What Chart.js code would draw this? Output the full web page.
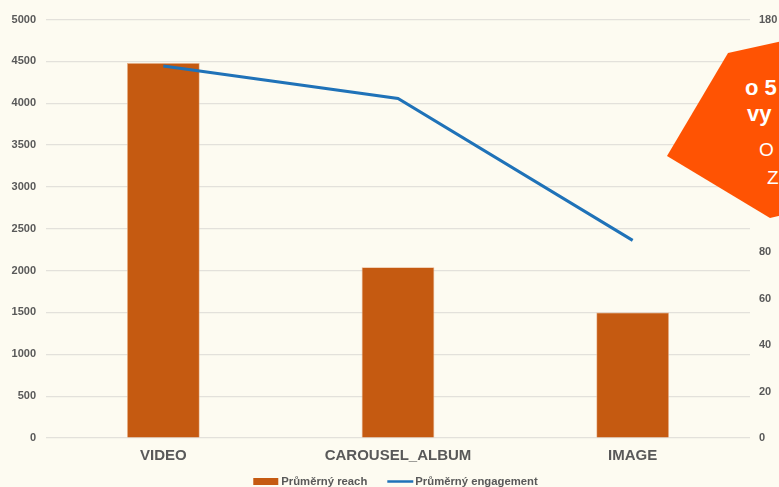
<!DOCTYPE html>
<html>
<head>
<meta charset="utf-8">
<script src="https://cdn.jsdelivr.net/npm/chart.js@4"></script>
<style>
  html, body { margin: 0; padding: 0; background: #fdfbf1; overflow: hidden; }
  #wrap { position: relative; width: 779px; height: 487px; overflow: hidden; }
  #badge {
    position: absolute; left: 667px; top: 38px; width: 120px; height: 182px;
    background: #ff5303;
    clip-path: polygon(61px 15px, 120px 2px, 120px 176px, 103px 180px, 0px 118px);
    color: #fff; font-family: "Liberation Sans", Arial, sans-serif; overflow: hidden;
  }
  #badge div { position: absolute; white-space: nowrap; }
</style>
</head>
<body>
<div id="wrap">
  <canvas id="chart" width="779" height="487"></canvas>
  <div id="badge">
    <div style="top:37px;left:78px;font-size:22px;font-weight:bold;">o 5</div>
    <div style="top:63px;left:80px;font-size:22px;font-weight:bold;">vy</div>
    <div style="top:101px;left:92px;font-size:19px;">O</div>
    <div style="top:129px;left:100px;font-size:19px;">Z</div>
  </div>
</div>
<script>
// data
const categories = ["VIDEO", "CAROUSEL_ALBUM", "IMAGE"];
const avgReach = [4480, 2040, 1500];
const avgEngagement = [160, 146, 85];
const reachTicks = [0, 5000, 500];
const engagementTicks = [0, 180, 20];

const grey = "#595959";
const fontFam = "'Liberation Sans', Arial, sans-serif";

// legend drawn by hand so the spacing matches the office-style legend
const bottomLegend = {
    id: "bottomLegend",
    afterDraw(chart) {
        const c = chart.ctx;
        const ds = chart.data.datasets;
        const bar = ds[1], line = ds[0];
        c.save();
        c.font = "bold 11.3px " + fontFam;
        c.textBaseline = "middle";
        const w1 = c.measureText(bar.label).width;
        const w2 = c.measureText(line.label).width;
        const total = 25 + 3 + w1 + 20 + 26 + 2 + w2;
        let x = 395.5 - total / 2;
        const y = 481.5;
        c.fillStyle = bar.backgroundColor;
        c.fillRect(x, y - 3.5, 25, 7);
        x += 28;
        c.fillStyle = grey;
        c.fillText(bar.label, x, y);
        x += w1 + 20;
        c.strokeStyle = line.borderColor;
        c.lineWidth = 2.5;
        c.beginPath();
        c.moveTo(x, y);
        c.lineTo(x + 26, y);
        c.stroke();
        x += 28;
        c.fillText(line.label, x, y);
        c.restore();
    }
};

const ctx = document.getElementById("chart").getContext("2d");

new Chart(ctx, {
    data: {
        labels: categories,
        datasets: [
            {
                type: "line",
                label: "Průměrný engagement",
                data: avgEngagement,
                yAxisID: "y1",
                borderColor: "#1f72b8",
                backgroundColor: "#1f72b8",
                borderWidth: 3,
                pointRadius: 0,
                tension: 0,
                order: 0
            },
            {
                type: "bar",
                label: "Průměrný reach",
                data: avgReach,
                yAxisID: "y",
                backgroundColor: "#c55a11",
                borderColor: "#e8b48f",
                borderWidth: 0.8,
                categoryPercentage: 1,
                barPercentage: 0.31,
                order: 1
            }
        ]
    },
    plugins: [bottomLegend],
    options: {
        responsive: false,
        animation: false,
        layout: { padding: { top: 19.5, right: 0, left: 0, bottom: 21 } },
        plugins: {
            tooltip: { enabled: false },
            legend: { display: false }
        },
        scales: {
            x: {
                grid: { display: false },
                border: { display: false },
                ticks: { color: grey, font: { family: fontFam, size: 15, weight: "bold" }, padding: 1 }
            },
            y: {
                position: "left",
                min: reachTicks[0],
                max: reachTicks[1],
                ticks: {
                    stepSize: reachTicks[2], color: grey,
                    font: { family: fontFam, size: 11, weight: "bold" }, padding: 10,
                    callback: v => String(v)
                },
                grid: { color: "#e3e1db", lineWidth: 1.2, drawTicks: false },
                border: { display: false },
                afterFit(scale) { scale.width = 46; }
            },
            y1: {
                position: "right",
                min: engagementTicks[0],
                max: engagementTicks[1],
                ticks: {
                    stepSize: engagementTicks[2], color: grey,
                    font: { family: fontFam, size: 11, weight: "bold" }, padding: 9,
                    callback: v => String(v)
                },
                grid: { display: false, drawTicks: false },
                border: { display: false },
                afterFit(scale) { scale.width = 29; }
            }
        }
    }
});
</script>
</body>
</html>
